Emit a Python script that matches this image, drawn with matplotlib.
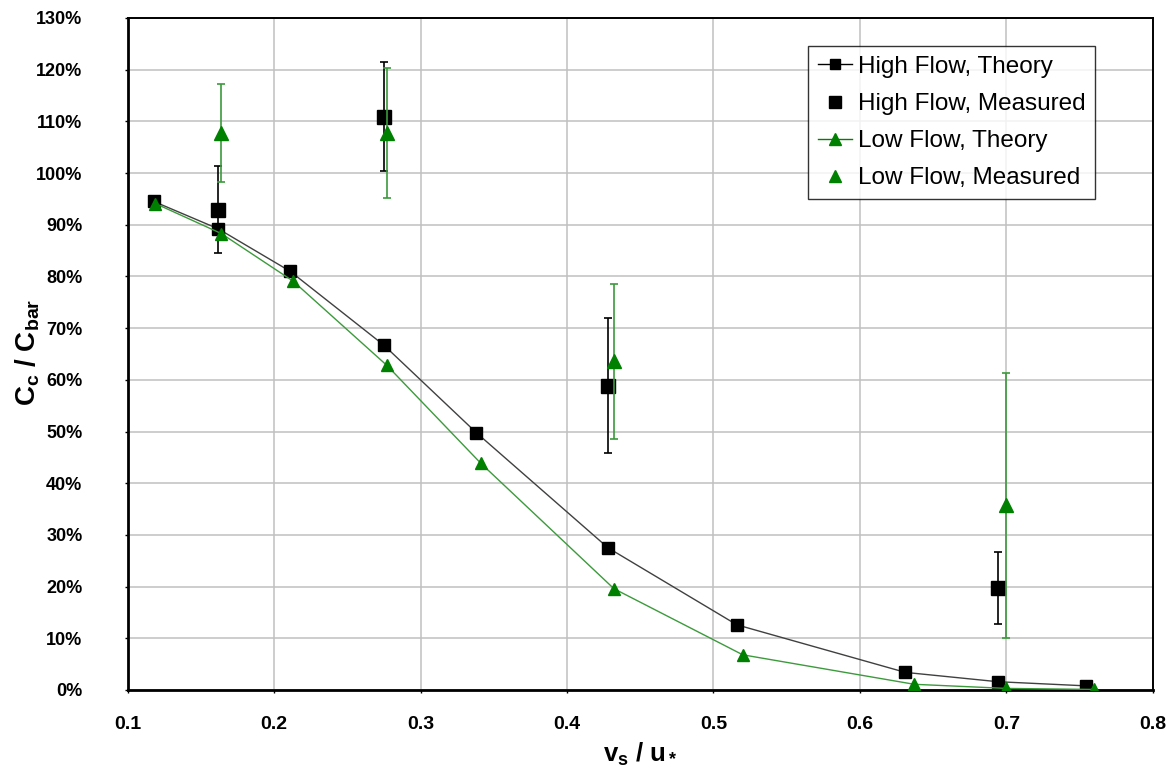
import matplotlib
matplotlib.use("Agg")
import matplotlib.pyplot as plt
from matplotlib.lines import Line2D
from matplotlib.ticker import FuncFormatter

# ---- data ----
high_theory_x = [0.118, 0.162, 0.211, 0.275, 0.338, 0.428, 0.516, 0.631, 0.694, 0.754]
high_theory_y = [94.5, 89.2, 81.0, 66.7, 49.8, 27.5, 12.6, 3.4, 1.6, 0.8]
low_theory_x = [0.119, 0.164, 0.213, 0.277, 0.341, 0.432, 0.520, 0.637, 0.700, 0.760]
low_theory_y = [94.1, 88.3, 79.1, 62.8, 43.9, 19.6, 6.8, 1.1, 0.3, 0.1]

high_meas_x = [0.162, 0.275, 0.428, 0.694]
high_meas_y = [92.9, 110.9, 58.9, 19.7]
high_meas_err = [8.4, 10.6, 13.0, 7.0]
low_meas_x = [0.164, 0.277, 0.432, 0.700]
low_meas_y = [107.7, 107.7, 63.6, 35.7]
low_meas_err = [9.5, 12.6, 15.0, 25.6]

labels = ["High Flow, Theory", "High Flow, Measured", "Low Flow, Theory", "Low Flow, Measured"]
x_ticks = [0.1, 0.2, 0.3, 0.4, 0.5, 0.6, 0.7, 0.8]
y_ticks = list(range(0, 131, 10))

# ---- style ----
plt.rcParams['font.family'] = ['Liberation Sans', 'DejaVu Sans']
plt.rcParams['mathtext.fontset'] = 'custom'
plt.rcParams['mathtext.rm'] = 'Liberation Sans'
plt.rcParams['mathtext.bf'] = 'Liberation Sans:bold'
plt.rcParams['mathtext.it'] = 'Liberation Sans:italic'

GREEN = '#008000'
BLACK = '#000000'

fig = plt.figure(figsize=(11.71, 7.68), dpi=100)
ax = fig.add_axes([0.1089, 0.1016, 0.8757, 0.875])

ax.set_xlim(0.1, 0.8)
ax.set_ylim(0, 130)
ax.set_xticks(x_ticks)
ax.set_yticks(y_ticks)
ax.xaxis.set_major_formatter(FuncFormatter(lambda v, p: f"{v:.1f}"))
ax.yaxis.set_major_formatter(FuncFormatter(lambda v, p: f"{int(round(v))}%"))
ax.grid(True, color='#c0c0c0', linewidth=1.1)
ax.set_axisbelow(True)

for side in ['top', 'right']:
    ax.spines[side].set_linewidth(1.4)
    ax.spines[side].set_color(BLACK)
for side in ['left', 'bottom']:
    ax.spines[side].set_linewidth(2.0)
    ax.spines[side].set_color(BLACK)

ax.tick_params(axis='x', direction='out', length=2.5, width=1, pad=16, labelsize=14)
ax.tick_params(axis='y', direction='out', length=2.5, width=1, pad=30, labelsize=13)
for t in ax.get_xticklabels() + ax.get_yticklabels():
    t.set_fontweight('bold')

# high theory
ax.plot(high_theory_x, high_theory_y, color='#404040', lw=1.0, zorder=3)
ax.plot(high_theory_x, high_theory_y, ls='none', marker='s', ms=8, color=BLACK, zorder=4)
# high measured
ax.errorbar(high_meas_x, high_meas_y, yerr=high_meas_err, fmt='none', ecolor=BLACK,
            elinewidth=1.2, capsize=3.2, capthick=1.2, zorder=5)
ax.plot(high_meas_x, high_meas_y, ls='none', marker='s', ms=10, color=BLACK, zorder=6)
# low theory
ax.plot(low_theory_x, low_theory_y, color='#3c9a3c', lw=1.0, zorder=7)
ax.plot(low_theory_x, low_theory_y, ls='none', marker='^', ms=8.5, color=GREEN, zorder=8)
# low measured
ax.errorbar(low_meas_x, low_meas_y, yerr=low_meas_err, fmt='none', ecolor='#3c9a3c',
            elinewidth=1.2, capsize=3.2, capthick=1.2, zorder=9)
ax.plot(low_meas_x, low_meas_y, ls='none', marker='^', ms=9.5, color=GREEN, zorder=10)

handles = [
    Line2D([], [], color=BLACK, lw=1.0, marker='s', ms=7),
    Line2D([], [], color=BLACK, ls='none', marker='s', ms=8),
    Line2D([], [], color=GREEN, lw=1.0, marker='^', ms=8),
    Line2D([], [], color=GREEN, ls='none', marker='^', ms=8),
]
leg = ax.legend(handles, labels, loc='upper right', bbox_to_anchor=(0.9435, 0.958),
                fontsize=17.5, frameon=True, fancybox=False, edgecolor=BLACK,
                handlelength=1.4, handletextpad=0.25, borderpad=0.4,
                labelspacing=0.62, borderaxespad=0.0)
leg.get_frame().set_linewidth(1.0)

fig.text(28 / 1171, 1 - 352 / 768, r'$\mathbf{C_c\ /\ C_{bar}}$', rotation=90,
         ha='center', va='center', fontsize=20)
fig.text(640 / 1171, 1 - 754 / 768, r'$\mathbf{v_s\ /\ u_*}$',
         ha='center', va='center', fontsize=18.5)

fig.savefig('out.png', dpi=100)
